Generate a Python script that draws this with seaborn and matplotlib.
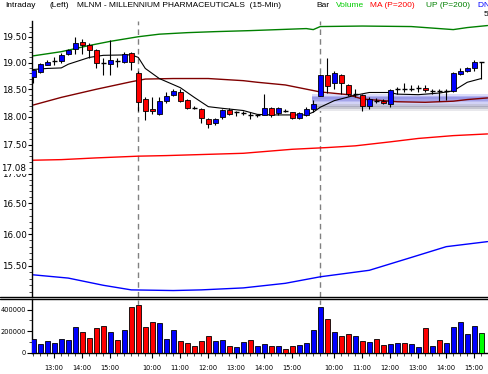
import matplotlib
matplotlib.use("Agg")
import numpy as np
import pandas as pd
import seaborn as sns
import matplotlib.pyplot as plt
from matplotlib.lines import Line2D
from matplotlib.ticker import FixedLocator, FixedFormatter, NullFormatter, NullLocator

# ---------------- data ----------------
session_starts = ["12:15", "09:30", "09:30"]
session_bars = [15, 26, 24]

opens = [18.72, 18.83, 18.96, 19.03, 19.04, 19.16, 19.26, 19.39, 19.34, 19.25,
         19.01, 18.98, 19.05, 19.02, 19.18,
         18.80, 18.32, 18.14, 18.05, 18.28, 18.40, 18.44, 18.30, 18.17, 18.14,
         17.96, 17.88, 18.00, 18.12, 18.07, 18.06, 18.04, 18.02, 18.03, 18.15,
         18.06, 18.11, 18.08, 17.97, 18.03, 18.14,
         18.38, 18.76, 18.61, 18.76, 18.58, 18.40, 18.39, 18.20, 18.30, 18.29,
         18.22, 18.49, 18.52, 18.50, 18.51, 18.53, 18.46, 18.47, 18.46, 18.46,
         18.78, 18.84, 18.89, 19.00]
highs = [18.87, 19.00, 19.06, 19.11, 19.18, 19.27, 19.50, 19.46, 19.38, 19.26,
         19.08, 19.44, 19.08, 19.21, 19.21,
         18.84, 18.35, 18.35, 18.35, 18.44, 18.51, 18.50, 18.32, 18.20, 18.15,
         17.98, 17.98, 18.14, 18.15, 18.11, 18.11, 18.08, 18.05, 18.41, 18.17,
         18.17, 18.14, 18.09, 18.08, 18.17, 18.30,
         18.78, 19.08, 18.84, 18.78, 18.60, 18.51, 18.41, 18.35, 18.33, 18.32,
         18.51, 18.55, 18.62, 18.57, 18.57, 18.57, 18.50, 18.50, 18.50, 18.83,
         18.90, 18.92, 19.06, 19.02]
lows = [18.62, 18.81, 18.95, 18.95, 19.00, 19.15, 19.16, 19.16, 19.08, 18.89,
        18.76, 18.76, 18.91, 19.00, 18.86,
        18.11, 17.93, 18.05, 18.03, 18.25, 18.37, 18.27, 18.13, 18.13, 17.89,
        17.80, 17.85, 17.96, 18.02, 18.01, 18.03, 17.95, 17.99, 18.02, 18.00,
        18.02, 18.08, 17.95, 17.95, 18.01, 18.09,
        18.37, 18.43, 18.50, 18.41, 18.38, 18.35, 18.11, 18.13, 18.25, 18.23,
        18.18, 18.41, 18.45, 18.46, 18.45, 18.45, 18.41, 18.29, 18.30, 18.44,
        18.76, 18.83, 18.85, 18.69]
closes = [18.86, 18.97, 19.01, 19.04, 19.15, 19.24, 19.38, 19.34, 19.25, 19.00,
          19.00, 19.05, 19.04, 19.16, 19.02,
          18.27, 18.10, 18.10, 18.28, 18.38, 18.47, 18.29, 18.16, 18.16, 17.98,
          17.87, 17.96, 18.12, 18.05, 18.08, 18.07, 18.03, 18.03, 18.15, 18.03,
          18.15, 18.10, 17.97, 18.07, 18.14, 18.23,
          18.76, 18.56, 18.80, 18.61, 18.41, 18.41, 18.19, 18.32, 18.29, 18.25,
          18.48, 18.50, 18.51, 18.51, 18.52, 18.48, 18.47, 18.46, 18.47, 18.80,
          18.85, 18.89, 19.01, 19.01]
volumes = [128000, 81000, 106000, 91000, 125000, 119000, 241000, 191000, 134000, 228000,
           247000, 191000, 116000, 209000, 425000,
           447000, 238000, 284000, 275000, 128000, 209000, 106000, 88000, 59000, 106000,
           153000, 106000, 116000, 59000, 50000, 97000, 116000, 59000, 78000, 59000,
           59000, 31000, 59000, 69000, 88000, 209000,
           425000, 313000, 191000, 153000, 172000, 153000, 106000, 97000, 125000, 69000,
           78000, 88000, 88000, 78000, 50000, 228000, 59000, 116000, 88000, 238000,
           284000, 172000, 247000, 181000]

# indicator lines (value read at given bar numbers)
up_bars = [0, 4, 8, 11, 15, 18, 22, 26, 31, 35, 39, 40, 41, 47, 54, 57, 60, 62, 64.9]
up_vals = [19.13, 19.21, 19.33, 19.41, 19.50, 19.55, 19.58, 19.60, 19.62, 19.64,
           19.66, 19.64, 19.70, 19.71, 19.70, 19.67, 19.64, 19.68, 19.72]
mid_bars = [0, 4, 9, 14, 16, 20, 25, 30, 32, 36, 41, 45, 47, 52, 56, 60, 62, 64.9]
mid_vals = [18.21, 18.35, 18.50, 18.64, 18.69, 18.70, 18.70, 18.66, 18.63, 18.58,
            18.45, 18.40, 18.32, 18.27, 18.26, 18.28, 18.31, 18.34]
ma_bars = [0, 2, 4, 5, 8, 10, 14, 15, 16, 18, 21, 23, 25, 27, 30, 32, 34, 39, 40,
           41, 43, 46, 48, 51, 52, 55, 58, 60, 62, 64]
ma_vals = [18.87, 18.89, 18.90, 18.97, 19.10, 19.14, 19.15, 19.10, 18.89, 18.70,
           18.53, 18.35, 18.18, 18.15, 18.11, 18.04, 18.03, 18.03, 18.08, 18.17,
           18.29, 18.39, 18.44, 18.44, 18.41, 18.40, 18.43, 18.47, 18.63, 18.70]
low_bars = [0, 4, 9, 15, 19, 30, 37, 42, 46, 51, 55, 60, 64.9]
low_vals = [17.23, 17.24, 17.27, 17.30, 17.31, 17.35, 17.42, 17.45, 17.48, 17.55,
            17.61, 17.66, 17.69]
dn_bars = [0, 5, 10, 14, 20, 24, 30, 36, 41, 48, 54, 59, 64.9]
dn_vals = [15.36, 15.31, 15.20, 15.13, 15.12, 15.13, 15.16, 15.23, 15.33, 15.43,
           15.63, 15.80, 15.88]

price_ticks = [15.5, 16.0, 16.5, 17.0, 17.5, 18.0, 18.5, 19.0, 19.5]
flag_price = 17.08
volume_ticks = [0, 200000, 400000]
band_low, band_high, band_start = 18.11, 18.41, 39.85

header = [("Intraday", "black"), ("(Left)", "black"),
          ("MLNM - MILLENNIUM PHARMACEUTICALS  (15-Min)", "black"),
          ("Bar", "black"), ("Volume", "#00cc00"), ("MA (P=200)", "#ff0000"),
          ("UP (P=200)", "#008000"), ("DN (P=200)", "#0000ff")]

# ---------------- derived ----------------
times = []
day_start = []
for s, n in zip(session_starts, session_bars):
    t0 = pd.Timestamp("2000-01-01 " + s)
    day_start.append(len(times))
    times += [t0 + pd.Timedelta(minutes=15 * k) for k in range(n)]
idx = np.arange(len(times))
hour_ticks = [i for i, t in enumerate(times) if t.minute == 0]
hour_labels = [times[i].strftime("%H:%M") for i in hour_ticks]

o, h, l, c = (np.array(v) for v in (opens, highs, lows, closes))
vol = np.array(volumes)
body = np.abs(c - o) > 0.015
up = c >= o
BLUE, RED = "#0000ff", "#ff0000"

# ---------------- figure ----------------
sns.set_theme(style="white")
plt.rcParams['font.family'] = ['DejaVu Sans']
W, H = 488, 374
fig = plt.figure(figsize=(W / 100, H / 100), dpi=100)
fig.patch.set_facecolor("white")

x0 = 32.3
ax = fig.add_axes([x0 / W, 1 - 296.5 / H, (W - x0) / W, (296.5 - 21) / H])
axv = fig.add_axes([x0 / W, 1 - 352.7 / H, (W - x0) / W, (352.7 - 299.5) / H])
xlim = (-0.14, 64.96)

# ---- price panel ----
ax.set_yscale("log")
ax.set_xlim(*xlim)
ax.set_ylim(15.03, 19.81)
for d in day_start[1:]:
    ax.axvline(d, color="#808080", lw=1.0, ls=(0, (4, 3)), zorder=0.5)
    axv.axvline(d, color="#808080", lw=1.0, ls=(0, (4, 3)), zorder=0.5)

# band
band_cols = ["#dcdcfa", "#b4b4f0", "#9898e6", "#a4a4ea", "#bcbcf2", "#d2d2f6",
             "#c4c4dc", "#acacc0", "#c6c6d0", "#e8e8ec"]
edges = np.geomspace(band_high, band_low, len(band_cols) + 1)
for k, col in enumerate(band_cols):
    ax.fill_between([band_start, xlim[1]], edges[k + 1], edges[k], color=col,
                    lw=0, zorder=1)

line_specs = [(up_bars, up_vals, "#008000", 1.0), (mid_bars, mid_vals, "#800000", 1.0),
              (low_bars, low_vals, "#ff0000", 1.0), (dn_bars, dn_vals, "#0000ff", 1.0),
              (ma_bars, ma_vals, "black", 0.8)]
for xs, ys, col, lw in line_specs:
    sns.lineplot(x=xs, y=ys, ax=ax, color=col, linewidth=lw, estimator=None,
                 sort=False, legend=False, zorder=2)

ax.vlines(idx, l, h, color="black", lw=0.8, zorder=3)
ax.bar(idx[body], (c - o)[body], bottom=o[body], width=0.67,
       color=np.where(up, BLUE, RED)[body], edgecolor="black", linewidth=0.6, zorder=4)
ax.hlines(c[~body], idx[~body] - 0.34, idx[~body] + 0.34, color="black", lw=1.0, zorder=4)

ax.yaxis.set_major_locator(FixedLocator(price_ticks))
ax.yaxis.set_major_formatter(FixedFormatter([f"{p:.2f}" for p in price_ticks]))
minor = [m / 10 for m in range(151, 198) if (m % 5) != 0]
ax.yaxis.set_minor_locator(FixedLocator(minor))
ax.yaxis.set_minor_formatter(NullFormatter())
ax.tick_params(axis="y", which="major", left=True, length=3.0, width=0.8, pad=0.8,
               labelsize=6.3, colors="black", direction="out")
ax.tick_params(axis="y", which="minor", left=True, length=2, width=0.6, direction="out")
ax.xaxis.set_major_locator(NullLocator())
ax.xaxis.set_minor_locator(NullLocator())
for side in ["top", "right", "bottom"]:
    ax.spines[side].set_visible(False)
ax.spines["left"].set_color("black")
ax.spines["left"].set_linewidth(1.0)
ax.annotate(f"{flag_price:.2f}", xy=(0, flag_price), xycoords=("axes fraction", "data"),
            xytext=(-4.2, 0), textcoords="offset points", ha="right", va="center",
            fontsize=6.3, color="black", annotation_clip=False,
            bbox=dict(facecolor="white", edgecolor="none", pad=0.1), zorder=6)

# ---- volume panel ----
vcol = np.where(up, BLUE, RED).astype(object)
vcol[-1] = "#00ff00"
axv.bar(idx, vol, width=0.67, color=list(vcol), edgecolor="black", linewidth=0.6, zorder=3)
axv.set_xlim(*xlim)
axv.set_ylim(0, 495000)
axv.yaxis.set_major_locator(FixedLocator(volume_ticks))
axv.yaxis.set_major_formatter(FixedFormatter([str(v) for v in volume_ticks]))
axv.yaxis.set_minor_locator(FixedLocator([100000, 300000]))
axv.xaxis.set_major_locator(FixedLocator(hour_ticks))
axv.xaxis.set_major_formatter(FixedFormatter(hour_labels))
axv.xaxis.set_minor_locator(FixedLocator(list(idx)))
axv.tick_params(axis="both", which="major", length=3.5, width=0.8, labelsize=4.8,
                colors="black", direction="out", left=True, bottom=True)
axv.tick_params(axis="x", which="major", pad=5.5)
axv.tick_params(axis="y", which="major", pad=1)
axv.tick_params(axis="both", which="minor", length=2.5, width=0.6, direction="out",
                left=True, bottom=True)
for side in ["top", "right"]:
    axv.spines[side].set_visible(False)
for side in ["left", "bottom"]:
    axv.spines[side].set_color("black")
    axv.spines[side].set_linewidth(1.0)

# separator double line
for yy in (296.8, 299.0):
    fig.add_artist(Line2D([0, 1], [1 - yy / H] * 2, transform=fig.transFigure,
                          color="black", lw=1.0))

# header
hx = [5, 50, 77, 316, 336, 370.5, 426.5, 478]
for (txt, col), xx in zip(header, hx):
    fig.text(xx / W, 1 - 5.5 / H, txt, color=col, fontsize=6.0, ha="left", va="center",
             family=["Liberation Sans", "DejaVu Sans"])
fig.text(484 / W, 1 - 15 / H, "5", color="black", fontsize=6.0, ha="left", va="center",
         family=["Liberation Sans", "DejaVu Sans"])

fig.savefig("out.png", dpi=100, facecolor="white")
